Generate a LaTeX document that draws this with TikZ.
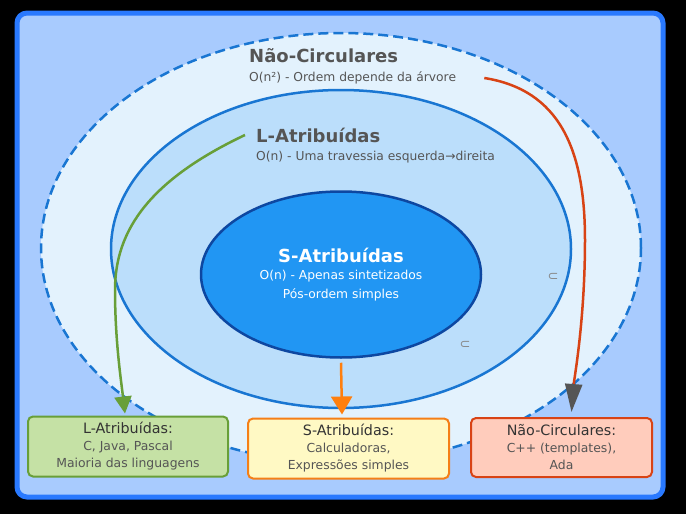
\documentclass[tikz,border=0pt]{standalone}
\usepackage{fontspec}
\setmainfont{DejaVu Sans}
\usetikzlibrary{
  shapes.geometric,
  arrows.meta
}
\definecolor{frame}{HTML}{2979FF}
\definecolor{framefill}{HTML}{A8CBFE}
\definecolor{ncfill}{HTML}{E3F2FD}
\definecolor{lafill}{HTML}{BBDEFB}
\definecolor{laline}{HTML}{1976D2}
\definecolor{safill}{HTML}{2196F3}
\definecolor{saline}{HTML}{0D47A1}
\definecolor{textgray}{HTML}{555555}
\definecolor{boxtitle}{HTML}{333333}
\definecolor{symgray}{HTML}{888888}
\definecolor{greenclr}{HTML}{689F38}
\definecolor{greenfill}{HTML}{C5E1A5}
\definecolor{orangeclr}{HTML}{F57F17}
\definecolor{orangearrow}{HTML}{FF7F0E}
\definecolor{yellowfill}{HTML}{FFF9C4}
\definecolor{redclr}{HTML}{D84315}
\definecolor{redfill}{HTML}{FFCCBC}
\definecolor{arrowgray}{HTML}{555555}

\begin{document}
\begin{tikzpicture}[x=1pt, y=-1pt,
    setell/.style={ellipse, draw, line width=2.5pt, inner sep=0pt},
    settitle/.style={font=\fontsize{18}{20}\selectfont\bfseries,
                     text=textgray, anchor=west, inner sep=0pt},
    setsub/.style={font=\fontsize{12.3}{14}\selectfont,
                   text=textgray, anchor=west, inner sep=0pt},
    langbox/.style={rounded corners=5pt, line width=2pt, minimum height=60pt,
                    align=center, inner sep=0pt, text=textgray,
                    font=\fontsize{12.4}{17}\selectfont},
    subsym/.style={font=\fontsize{13}{15}\selectfont, text=symgray},
    link/.style={line width=2.5pt},
  ]
  \fill[black] (0,0) rectangle (686,514);
  \useasboundingbox (0,0) rectangle (686,514);
  \draw[draw=frame, fill=framefill, line width=5pt, rounded corners=10pt]
    (17,13) rectangle (663,497);

  % nested sets
  \node[setell, draw=laline, fill=ncfill, dash pattern=on 10pt off 5pt,
        minimum width=600pt, minimum height=430pt] (nc) at (341,248) {};
  \node[setell, draw=laline, fill=lafill,
        minimum width=460pt, minimum height=318pt] (la) at (341,249) {};
  \node[setell, draw=saline, fill=safill,
        minimum width=280pt, minimum height=166pt] (sa) at (341,274.5) {};

  \node[settitle] (nctitle) at (249,56) {Não-Circulares};
  \node[setsub]   (ncsub)   at (249,78) {O(n²) - Ordem depende da árvore};
  \node[settitle] (latitle) at (256,135) {L-Atribuídas};
  \node[setsub]   (lasub)   at (256,157) {O(n) - Uma travessia esquerda→direita};
  \node[settitle, anchor=center, text=white] (satitle) at (341,255) {S-Atribuídas};
  \node[setsub, anchor=center, text=white, align=center,
        font=\fontsize{12.3}{19}\selectfont] (sasub) at (341,285.5)
    {O(n) - Apenas sintetizados\\Pós-ordem simples};

  \node[subsym] (sym1) at (553,277) {⊂};
  \node[subsym] (sym2) at (465,345) {⊂};

  % language boxes
  \node[langbox, draw=greenclr, fill=greenfill, minimum width=200pt]
    (lbox) at (128,446.5)
    {{\fontsize{14.3}{17}\selectfont\color{boxtitle}L-Atribuídas:}\\
     C, Java, Pascal\\Maioria das linguagens};
  \node[langbox, draw=orangeclr, fill=yellowfill, minimum width=201pt]
    (sbox) at (348.5,448.5)
    {{\fontsize{14.3}{17}\selectfont\color{boxtitle}S-Atribuídas:}\\
     Calculadoras,\\Expressões simples};
  \node[langbox, draw=redclr, fill=redfill, minimum width=181pt,
        minimum height=59pt]
    (nbox) at (561.5,447.5)
    {{\fontsize{14.3}{17}\selectfont\color{boxtitle}Não-Circulares:}\\
     C++ (templates),\\Ada};

  % links
  \draw[link, greenclr, -{Triangle[length=17pt, width=17pt]}]
    ([xshift=-11pt]latitle.west) .. controls (150,180) and (115,230) .. (115,290)
    .. controls (115,340) and (121,380) .. ([shift={(-3pt,2pt)}]lbox.north);
  \draw[link, orangearrow, -{Triangle[length=18pt, width=21pt]}]
    ([yshift=-4pt]sa.south) -- ([shift={(-6.5pt,3pt)}]sbox.north);
  \draw[link, redclr, -{Triangle[length=28pt, width=17pt, color=arrowgray]}]
    ([xshift=28pt]ncsub.east) .. controls (560,90) and (585,150) .. (585,240)
    .. controls (585,320) and (574,380) .. ([shift={(10pt,5pt)}]nbox.north);
\end{tikzpicture}
\end{document}
